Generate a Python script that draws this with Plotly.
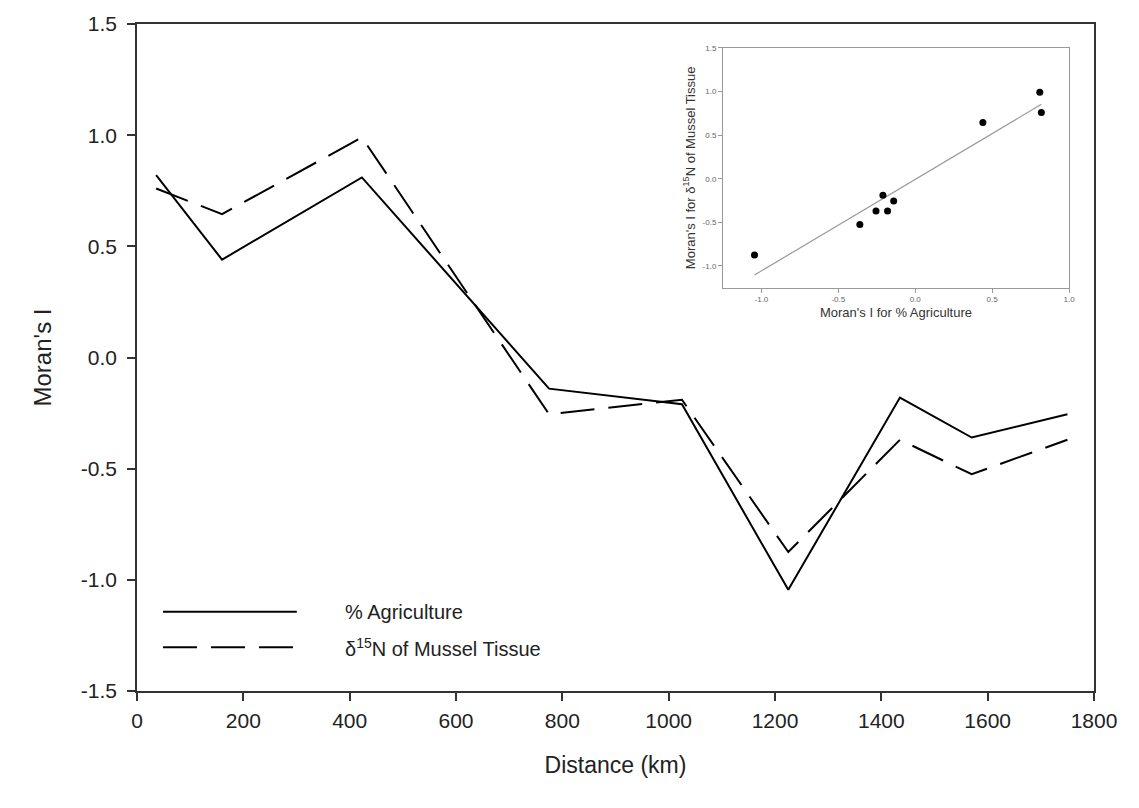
import numpy as np
import plotly.graph_objects as go

# ---- data ----
distance_km = [36, 160, 423, 775, 1025, 1225, 1435, 1570, 1750]
agriculture = [0.82, 0.44, 0.81, -0.14, -0.21, -1.045, -0.18, -0.36, -0.255]
mussel_d15n = [0.76, 0.645, 0.99, -0.255, -0.19, -0.875, -0.37, -0.525, -0.37]

x_ticks = [0, 200, 400, 600, 800, 1000, 1200, 1400, 1600, 1800]
y_ticks = [-1.5, -1.0, -0.5, 0.0, 0.5, 1.0, 1.5]
inset_x_ticks = [-1.0, -0.5, 0.0, 0.5, 1.0]
inset_y_ticks = [-1.0, -0.5, 0.0, 0.5, 1.0, 1.5]

# regression line of inset
slope, intercept = np.polyfit(agriculture, mussel_d15n, 1)
fit_x = [min(agriculture), max(agriculture)]
fit_y = [slope * v + intercept for v in fit_x]

FONT = "Liberation Sans, Arial, sans-serif"
fig = go.Figure()

fig.add_trace(go.Scatter(x=distance_km, y=agriculture, mode="lines",
                         line=dict(color="black", width=2), showlegend=False))
fig.add_trace(go.Scatter(x=distance_km, y=mussel_d15n, mode="lines",
                         line=dict(color="black", width=2, dash="34px,14px"), showlegend=False))

# inset
fig.add_trace(go.Scatter(x=fit_x, y=fit_y, mode="lines", xaxis="x2", yaxis="y2",
                         line=dict(color="#9a9a9a", width=1.2), showlegend=False))
fig.add_trace(go.Scatter(x=agriculture, y=mussel_d15n, mode="markers", xaxis="x2", yaxis="y2",
                         marker=dict(color="black", size=7), showlegend=False))

axis_common = dict(showgrid=False, zeroline=False, showline=True, mirror=True,
                   linecolor="#333333", linewidth=1.5, ticks="outside",
                   tickcolor="#333333", tickwidth=1.5, ticklen=8,
                   tickfont=dict(family=FONT, size=21, color="#222"))

fig.update_layout(
    width=1139, height=808,
    margin=dict(l=137, r=45, t=21, b=117),
    paper_bgcolor="white", plot_bgcolor="white",
    xaxis=dict(range=[0, 1800], tickvals=x_ticks, ticktext=[str(v) for v in x_ticks],
               ticklabelstandoff=2,
               title=dict(text="Distance (km)", font=dict(family=FONT, size=23, color="#222"), standoff=26),
               **axis_common),
    yaxis=dict(range=[-1.5, 1.5], tickvals=y_ticks, ticktext=[f"{v:.1f}" for v in y_ticks],
               ticklabelstandoff=6,
               title=dict(text="Moran's I", font=dict(family=FONT, size=24, color="#222"), standoff=22),
               **axis_common),
    xaxis2=dict(domain=[0.6123, 0.9739], anchor="y2", range=[-1.25, 1.0],
                tickvals=inset_x_ticks, ticktext=[f"{v:.1f}" for v in inset_x_ticks],
                showgrid=False, zeroline=False, showline=True, mirror=True,
                linecolor="#999999", linewidth=1, ticks="outside", ticklen=4,
                tickcolor="#999999", tickfont=dict(family=FONT, size=8, color="#666"),
                title=dict(text="Moran's I for % Agriculture",
                           font=dict(family=FONT, size=13, color="#333"), standoff=4)),
    yaxis2=dict(domain=[0.6045, 0.9642], anchor="x2", range=[-1.25, 1.5],
                tickvals=inset_y_ticks, ticktext=[f"{v:.1f}" for v in inset_y_ticks],
                showgrid=False, zeroline=False, showline=True, mirror=True,
                linecolor="#999999", linewidth=1, ticks="outside", ticklen=4,
                tickcolor="#999999", tickfont=dict(family=FONT, size=8, color="#666"),
                title=dict(text="Moran's I for δ<sup>15</sup>N of Mussel Tissue",
                           font=dict(family=FONT, size=13, color="#333"), standoff=4)),
)

# legend drawn manually (long line samples)
fig.add_shape(type="line", xref="paper", yref="paper", x0=0.0272, x1=0.167, y0=0.119, y1=0.119,
              line=dict(color="black", width=2))
fig.add_shape(type="line", xref="paper", yref="paper", x0=0.0272, x1=0.167, y0=0.0657, y1=0.0657,
              line=dict(color="black", width=2, dash="34px,14px"))
fig.add_annotation(xref="paper", yref="paper", x=0.2153, y=0.119, xanchor="left", yanchor="middle",
                   text="% Agriculture", showarrow=False, font=dict(family=FONT, size=20, color="#222"))
fig.add_annotation(xref="paper", yref="paper", x=0.2153, y=0.0657, xanchor="left", yanchor="middle",
                   text="δ<sup>15</sup>N of Mussel Tissue", showarrow=False,
                   font=dict(family=FONT, size=20, color="#222"))

fig.write_html("out.html")
